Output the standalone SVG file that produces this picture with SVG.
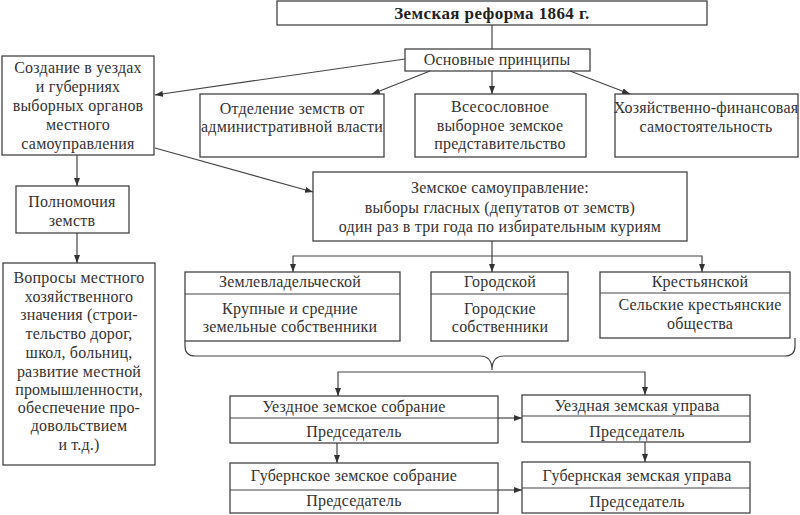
<svg xmlns="http://www.w3.org/2000/svg" width="800" height="515" viewBox="0 0 800 515">
<defs>
<style>
rect{fill:#fff;stroke:#444;stroke-width:1.3}
.div{stroke:#444;stroke-width:1.2;fill:none}
text{font-family:"Liberation Serif","DejaVu Serif",serif;font-size:16px;fill:#333;text-anchor:middle;letter-spacing:0.2px}
.b{font-weight:bold;font-size:17px;fill:#222;letter-spacing:0.4px}
.c path,.c line{stroke:#444;stroke-width:1.2;fill:none}
.a{marker-end:url(#ah)}
</style>
<marker id="ah" markerUnits="userSpaceOnUse" markerWidth="8" markerHeight="6" refX="8" refY="3" orient="auto">
<path d="M0,0 L8,3 L0,6 z" fill="#333"/>
</marker>
</defs>
<rect x="0" y="0" width="800" height="515" style="fill:#fff;stroke:none"/>

<g id="title"><rect x="277" y="1" width="430" height="24"/><text class="b" x="492" y="19">Земская реформа 1864 г.</text></g>
<g id="principles"><rect x="405" y="49" width="185" height="22"/><text x="497" y="65">Основные принципы</text></g>
<g id="creation"><rect x="2" y="56" width="152" height="99"/>
<text x="78" y="73">Создание в уездах</text><text x="78" y="92">и губерниях</text><text x="78" y="111">выборных органов</text><text x="78" y="130">местного</text><text x="78" y="149">самоуправления</text></g>
<g id="separation"><rect x="200" y="94" width="184" height="63"/><text x="292" y="114">Отделение земств от</text><text x="292" y="132">административной власти</text></g>
<g id="representation"><rect x="415" y="94" width="171" height="63"/><text x="500" y="112">Всесословное</text><text x="500" y="131">выборное земское</text><text x="500" y="149">представительство</text></g>
<g id="finance"><rect x="615" y="94" width="183" height="63"/><text x="706" y="113">Хозяйственно-финансовая</text><text x="706" y="132">самостоятельность</text></g>
<g id="powers"><rect x="16" y="186" width="113" height="47"/><text x="72" y="207">Полномочия</text><text x="72" y="226">земств</text></g>
<g id="issues"><rect x="3" y="263" width="152" height="202"/>
<text x="79" y="283">Вопросы местного</text><text x="79" y="302">хозяйственного</text><text x="79" y="320">значения (строи-</text><text x="79" y="339">тельство дорог,</text><text x="79" y="358">школ, больниц,</text><text x="79" y="377">развитие местной</text><text x="79" y="395">промышленности,</text><text x="79" y="413">обеспечение про-</text><text x="79" y="431">довольствием</text><text x="79" y="450">и т.д.)</text></g>
<g id="selfgov"><rect x="313" y="172" width="374" height="69"/><text x="500" y="193">Земское самоуправление:</text><text x="500" y="213">выборы гласных (депутатов от земств)</text><text x="500" y="232">один раз в три года по избирательным куриям</text></g>
<g id="landowners"><rect x="185" y="272" width="215" height="69"/><line class="div" x1="185" y1="294" x2="400" y2="294"/><text x="290" y="287">Землевладельческой</text><text x="290" y="314">Крупные и средние</text><text x="290" y="332">земельные собственники</text></g>
<g id="urban"><rect x="431" y="272" width="137" height="69"/><line class="div" x1="431" y1="294" x2="568" y2="294"/><text x="500" y="287">Городской</text><text x="500" y="314">Городские</text><text x="500" y="332">собственники</text></g>
<g id="peasant"><rect x="600" y="272" width="190" height="66"/><line class="div" x1="600" y1="293" x2="790" y2="293"/><text x="700" y="287">Крестьянской</text><text x="700" y="310">Сельские крестьянские</text><text x="700" y="329">общества</text></g>
<g id="district-assembly"><rect x="230" y="396" width="268" height="47"/><line class="div" x1="230" y1="418" x2="498" y2="418"/><text x="354" y="412">Уездное земское собрание</text><text x="354" y="437">Председатель</text></g>
<g id="province-assembly"><rect x="230" y="463" width="268" height="50"/><line class="div" x1="230" y1="490" x2="498" y2="490"/><text x="354" y="481">Губернское земское собрание</text><text x="354" y="506">Председатель</text></g>
<g id="district-board"><rect x="522" y="395" width="228" height="47"/><line class="div" x1="522" y1="416" x2="750" y2="416"/><text x="637" y="411">Уездная земская управа</text><text x="637" y="437">Председатель</text></g>
<g id="province-board"><rect x="522" y="462" width="228" height="51"/><line class="div" x1="522" y1="488" x2="750" y2="488"/><text x="637" y="481">Губернская земская управа</text><text x="637" y="507">Председатель</text></g>

<g id="connectors" class="c">
<line x1="492" y1="25" x2="492" y2="49"/>
<line class="a" x1="405" y1="59" x2="155" y2="95"/>
<line class="a" x1="430" y1="71" x2="372" y2="94"/>
<line class="a" x1="492" y1="71" x2="492" y2="94"/>
<line class="a" x1="570" y1="71" x2="630" y2="94"/>
<line class="a" x1="77" y1="155" x2="77" y2="186"/>
<line class="a" x1="77" y1="233" x2="77" y2="263"/>
<line class="a" x1="155" y1="148" x2="313" y2="192"/>
<line class="a" x1="492" y1="241" x2="492" y2="272"/>
<path class="a" d="M492,256 H293 V272"/>
<path class="a" d="M492,256 H702 V272"/>
<path d="M185,341 V346 Q185,356 195,356 H480 Q492,356 492,370 Q492,356 504,356 H785 Q795,356 795,346 V338"/>
<path class="a" d="M492,372 H338 V396"/>
<path class="a" d="M492,372 H645 V395"/>
<line class="a" x1="498" y1="418" x2="522" y2="418"/>
<line class="a" x1="498" y1="490" x2="522" y2="490"/>
<line class="a" x1="337" y1="443" x2="337" y2="463"/>
<line class="a" x1="645" y1="442" x2="645" y2="462"/>
</g>
</svg>
